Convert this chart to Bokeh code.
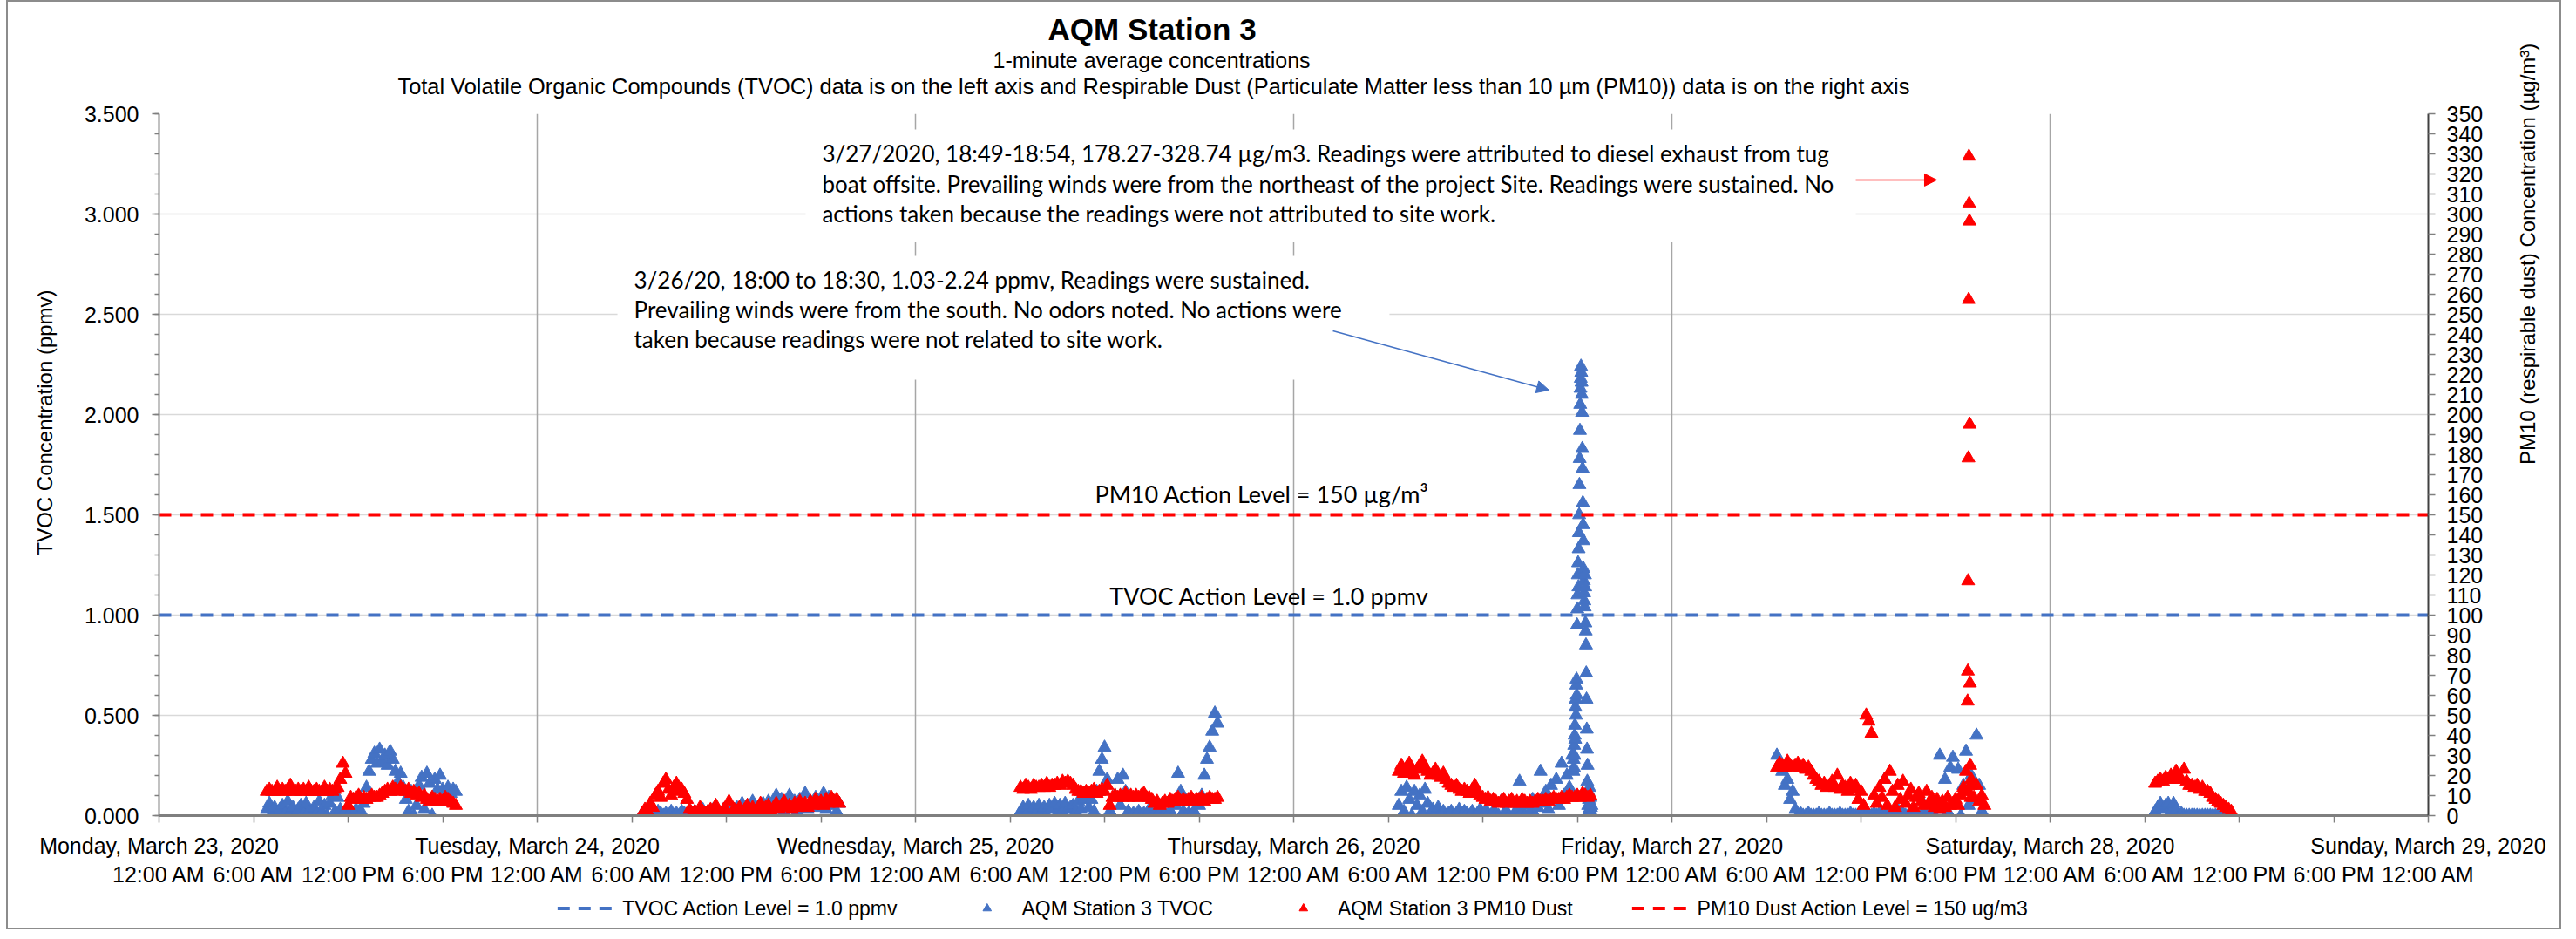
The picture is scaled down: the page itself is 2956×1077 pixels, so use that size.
import numpy as np
import pandas as pd
from bokeh.plotting import figure
from bokeh.layouts import column
from bokeh.models import (Range1d, LinearAxis, FixedTicker, SingleIntervalTicker,
                          NumeralTickFormatter, Legend, LegendItem, Label, BoxAnnotation,
                          Arrow, NormalHead, ColumnDataSource, Grid, Title)
from bokeh.embed import file_html
from bokeh.resources import INLINE

# ------------------------------------------------------------------ data
day_labels = ["Monday, March 23, 2020", "Tuesday, March 24, 2020", "Wednesday, March 25, 2020",
              "Thursday, March 26, 2020", "Friday, March 27, 2020", "Saturday, March 28, 2020",
              "Sunday, March 29, 2020"]
time_labels = ["12:00 AM", "6:00 AM", "12:00 PM", "6:00 PM"]
tick_hours = list(range(0, 145, 6))          # hours since Monday 12:00 AM
tvoc_action = 1.0                              # ppmv
pm10_action = 150                              # ug/m3

# 10-minute readings (TVOC ppmv, PM10 ug/m3) per working day
mon_start = "2020-03-23 06:50"
tvoc_mon = [0.03,
            0.06, 0.01, 0.04, 0.00, 0.03, 0.05,
            0.01, 0.07, 0.02, 0.04, 0.00, 0.03,
            0.05, 0.01, 0.06, 0.02, 0.00, 0.04,
            0.01, 0.07, 0.02, 0.05, 0.00, 0.06,
            0.10, 0.02, 0.09, 0.03, 0.01, 0.02,
            0.00, 0.02, 0.01, 0.03, 0.00, 0.02,
            0.06, 0.14, 0.22, 0.28, 0.31, 0.26,
            0.33, 0.27, 0.30, 0.25, 0.32, 0.28,
            0.22, 0.17, 0.21, 0.14, 0.08, 0.02,
            0.12, 0.00, 0.05, 0.15, 0.19, 0.03,
            0.21, 0.16, 0.00, 0.18, 0.13, 0.20,
            0.13, 0.10, 0.14, 0.11, 0.13, 0.12]
pm10_mon = [12,
            13, 12, 12, 14, 12, 13,
            12, 13, 15, 12, 12, 13,
            12, 13, 12, 14, 12, 12,
            13, 12, 12, 14, 12, 13,
            12, 13, 14, 18, 26, 21,
            5, 9, 8, 9, 10, 8,
            9, 8, 9, 10, 9, 9,
            10, 11, 12, 13, 12, 14,
            13, 12, 14, 13, 12, 13,
            11, 12, 10, 11, 9, 10,
            8, 7, 9, 8, 7, 8,
            7, 9, 8, 7, 6, 5]

tue_start = "2020-03-24 06:40"
tvoc_tue = [0.01, 0.00,
            0.02, 0.00, 0.01, 0.00, 0.02, 0.01,
            0.00, 0.01, 0.00, 0.02, 0.00, 0.01,
            0.00, 0.02, 0.01, 0.00, 0.01, 0.00,
            0.02, 0.00, 0.01, 0.03, 0.00, 0.02,
            0.01, 0.03, 0.00, 0.02, 0.01, 0.03,
            0.02, 0.00, 0.03, 0.01, 0.04, 0.02,
            0.06, 0.01, 0.05, 0.02, 0.07, 0.03,
            0.04, 0.01, 0.06, 0.03, 0.07, 0.02,
            0.05, 0.10, 0.03, 0.08, 0.02, 0.06,
            0.10, 0.04, 0.07, 0.02, 0.08, 0.05,
            0.11, 0.03, 0.07, 0.05, 0.09, 0.04,
            0.08, 0.11, 0.03, 0.09, 0.05, 0.07,
            0.02, 0.06]
pm10_tue = [1, 3,
            2, 6, 4, 10, 12, 9,
            16, 18, 13, 10, 14, 16,
            12, 13, 11, 8, 3, 1,
            2, 1, 4, 2, 1, 2,
            3, 1, 5, 2, 1, 3,
            2, 7, 1, 3, 2, 4,
            1, 3, 5, 2, 4, 1,
            3, 6, 2, 4, 5, 2,
            4, 6, 3, 5, 7, 4,
            5, 3, 6, 4, 7, 5,
            6, 4, 7, 5, 8, 6,
            7, 5, 8, 6, 9, 7,
            8, 6]

wed_start = "2020-03-25 06:40"
tvoc_wed = [0.02, 0.04,
            0.00, 0.05, 0.02, 0.04, 0.01, 0.05,
            0.02, 0.04, 0.00, 0.05, 0.03, 0.06,
            0.01, 0.05, 0.02, 0.06, 0.03, 0.04,
            0.05, 0.02, 0.07, 0.03, 0.08, 0.10,
            0.04, 0.08, 0.02, 0.12, 0.22, 0.28,
            0.34, 0.18, 0.02, 0.00, 0.10, 0.18,
            0.05, 0.20, 0.12, 0.02, 0.00, 0.01,
            0.00, 0.02, 0.00, 0.01, 0.00, 0.03,
            0.00, 0.01, 0.00, 0.02, 0.00, 0.01,
            0.00, 0.02, 0.00, 0.05, 0.21, 0.12,
            0.02, 0.00, 0.01, 0.00, 0.02, 0.00,
            0.05, 0.10, 0.20, 0.28, 0.34, 0.42,
            0.51, 0.46]
pm10_wed = [14, 13,
            15, 14, 13, 15, 14, 14,
            15, 14, 16, 14, 15, 15,
            16, 15, 17, 16, 17, 16,
            15, 13, 12, 12, 11, 12,
            11, 12, 13, 11, 12, 13,
            12, 15, 5, 9, 10, 9,
            10, 9, 11, 9, 10, 9,
            10, 9, 10, 11, 9, 9,
            8, 6, 7, 5, 6, 7,
            6, 8, 7, 8, 9, 7,
            8, 7, 8, 9, 7, 8,
            8, 9, 7, 8, 9, 8,
            8, 9]

thu_start = "2020-03-26 06:40"
tvoc_thu = [0.05, 0.12,
            0.02, 0.14, 0.08, 0.00, 0.12, 0.05,
            0.10, 0.02, 0.13, 0.06, 0.01, 0.03,
            0.00, 0.04, 0.01, 0.02, 0.00, 0.01,
            0.02, 0.00, 0.01, 0.03, 0.00, 0.02,
            0.01, 0.00, 0.02, 0.00, 0.01, 0.03,
            0.00, 0.02, 0.01, 0.00, 0.02, 0.01,
            0.00, 0.07, 0.01, 0.02, 0.00, 0.06,
            0.01, 0.03, 0.17, 0.02, 0.00, 0.05,
            0.02, 0.08, 0.00, 0.04, 0.22, 0.06,
            0.12, 0.03, 0.15, 0.08, 0.18, 0.05,
            0.26, 0.10, 0.20, 0.14, 0.30]
pm10_thu = [22, 25,
            21, 24, 26, 22, 20, 23,
            25, 27, 24, 22, 20, 21,
            23, 20, 19, 21, 18, 16,
            15, 14, 15, 13, 12, 13,
            12, 11, 13, 15, 12, 10,
            9, 8, 9, 7, 8, 7,
            6, 7, 8, 6, 7, 8,
            6, 7, 6, 8, 7, 6,
            7, 6, 7, 8, 7, 7,
            8, 7, 8, 9, 8, 8,
            9, 8, 9, 10, 9, 9,
            10, 9, 11, 10, 9, 10]

# 1-minute readings around the Thursday TVOC event (18:00-18:30, 1.03-2.24 ppmv)
thu_event_start = "2020-03-26 17:45"
tvoc_thu_event = [0.22, 0.28, 0.24, 0.35, 0.30, 0.40, 0.45, 0.38, 0.54, 0.58, 0.50, 0.65, 0.68, 0.60, 0.95,
                  1.03, 1.10, 1.20, 1.26, 1.14, 1.33, 1.41, 1.50, 1.65, 1.78, 1.92, 2.05, 2.13, 2.18, 2.24,
                  2.21, 2.16, 2.10, 2.01, 1.83, 1.73, 1.56, 1.45, 1.37, 1.23, 1.17, 1.11, 1.07, 1.04, 1.20, 1.14,
                  0.96, 0.92, 0.85, 0.71, 0.58, 0.43, 0.33, 0.17, 0.25, 0.10, 0.05, 0.12, 0.02, 0.08, 0.03,
                  0.14, 0.01, 0.06, 0.00, 0.09, 0.02, 0.04, 0.00, 0.05, 0.01]

fri_start = "2020-03-27 06:40"
tvoc_fri = [0.30, 0.26,
            0.22, 0.15, 0.18, 0.08, 0.12, 0.03,
            0.00, 0.01, 0.00, 0.00, 0.01, 0.00,
            0.00, 0.00, 0.01, 0.00, 0.00, 0.00,
            0.01, 0.00, 0.00, 0.00, 0.01, 0.00,
            0.00, 0.00, 0.01, 0.00, 0.00, 0.00,
            0.00, 0.01, 0.00, 0.00, 0.00, 0.01,
            0.00, 0.01, 0.00, 0.18, 0.02, 0.00,
            0.01, 0.00, 0.03, 0.00, 0.01, 0.00,
            0.00, 0.02, 0.00, 0.01, 0.10, 0.00,
            0.02, 0.00, 0.05, 0.01, 0.00, 0.03,
            0.30, 0.05, 0.18, 0.02, 0.24, 0.29,
            0.06, 0.23, 0.00, 0.15, 0.32, 0.05,
            0.20, 0.08, 0.40, 0.15, 0.02, 0.00]
pm10_fri = [24, 26,
            25, 24, 27, 25, 24, 25,
            26, 24, 25, 23, 24, 22,
            20, 18, 17, 15, 16, 14,
            15, 17, 14, 20, 13, 15,
            14, 12, 16, 13, 15, 8,
            12, 5, 50, 47, 41, 10,
            6, 14, 9, 18, 5, 22,
            12, 4, 15, 8, 17, 6,
            10, 13, 4, 9, 11, 7,
            5, 12, 6, 9, 4, 8,
            3, 7, 4, 9, 5, 6,
            8, 5, 10, 14, 22, 12,
            18, 9, 15, 7, 10, 5]

# 1-minute readings around the Friday PM10 event (18:49-18:54, 178.27-328.74 ug/m3)
fri_event_start = "2020-03-27 18:45"
pm10_fri_event = [12, 57, 72, 117, 178.27, 257.3, 328.74, 305.2, 296.4, 195.1, 66, 25, 15, 9]

sat_start = "2020-03-28 06:40"
tvoc_sat = [0.02, 0.04,
            0.06, 0.03, 0.05, 0.06, 0.02, 0.06,
            0.03, 0.00, 0.01, 0.00, 0.00, 0.00,
            0.00, 0.00, 0.00, 0.00, 0.00, 0.00,
            0.00, 0.00, 0.00, 0.00, 0.00, 0.00,
            0.00, 0.00, 0.00, 0.00]
pm10_sat = [16, 17,
            18, 17, 19, 18, 20, 18,
            22, 19, 18, 23, 17, 15,
            15, 14, 15, 13, 14, 12,
            12, 11, 9, 8, 7, 6,
            5, 4, 3, 2]

# ------------------------------------------------------------------ helpers
T0 = pd.Timestamp("2020-03-23 00:00")


def to_hours(start, n, step_min):
    idx = pd.date_range(start, periods=n, freq=f"{step_min}min")
    return ((idx - T0) / pd.Timedelta(hours=1)).to_numpy(dtype=float)


tvoc_segments = [(mon_start, tvoc_mon, 10), (tue_start, tvoc_tue, 10), (wed_start, tvoc_wed, 10),
                 (thu_start, tvoc_thu, 10), (thu_event_start, tvoc_thu_event, 1),
                 (fri_start, tvoc_fri, 10), (sat_start, tvoc_sat, 10)]
pm10_segments = [(mon_start, pm10_mon, 10), (tue_start, pm10_tue, 10), (wed_start, pm10_wed, 10),
                 (thu_start, pm10_thu, 10), (fri_start, pm10_fri, 10),
                 (fri_event_start, pm10_fri_event, 1), (sat_start, pm10_sat, 10)]

tvoc_src = ColumnDataSource(dict(
    x=np.concatenate([to_hours(s, len(v), st) for s, v, st in tvoc_segments]),
    y=np.concatenate([np.asarray(v, float) for s, v, st in tvoc_segments])))
pm10_src = ColumnDataSource(dict(
    x=np.concatenate([to_hours(s, len(v), st) for s, v, st in pm10_segments]),
    y=np.concatenate([np.asarray(v, float) for s, v, st in pm10_segments])))

BLUE = "#4472C4"
RED = "#FF0000"
FONT = "Liberation Sans"
NOTE_FONT = "Lato"

# ------------------------------------------------------------------ main figure
p = figure(frame_width=2604, frame_height=805, output_backend="svg", toolbar_location=None,
           x_range=Range1d(tick_hours[0], tick_hours[-1]), y_range=Range1d(0, 3.5),
           x_axis_type=None, y_axis_type=None,
           min_border_left=171, min_border_right=151, min_border_top=128, min_border_bottom=80)
p.extra_y_ranges = {"pm": Range1d(0, 350)}
p.outline_line_color = None
p.background_fill_color = "white"
p.border_fill_color = "white"

# titles (stacked outward from the plot area: spacer, subtitle 2, subtitle 1, title)
p.add_layout(Title(text=" ", text_font_size="13px", standoff=0), "above")
p.add_layout(Title(text="Total Volatile Organic Compounds (TVOC) data is on the left axis and Respirable Dust "
                        "(Particulate Matter less than 10 µm (PM10)) data is on the right axis",
                   align="left", offset=274, vertical_align="middle", standoff=0,
                   text_font=FONT, text_font_size="25.4px", text_font_style="normal", text_color="black"),
             "above")
p.add_layout(Title(text="1-minute average concentrations", align="left", offset=957,
                   vertical_align="middle", standoff=0,
                   text_font=FONT, text_font_size="25px", text_font_style="normal", text_color="black"),
             "above")
p.add_layout(Title(text="AQM Station 3", align="left", offset=1020, vertical_align="middle", standoff=0,
                   text_font=FONT, text_font_size="35px", text_font_style="bold", text_color="black"),
             "above")

# grids
p.add_layout(Grid(dimension=1, ticker=SingleIntervalTicker(interval=0.5),
                  grid_line_color="#d9d9d9", grid_line_width=1.5))
p.add_layout(Grid(dimension=0, ticker=FixedTicker(ticks=tick_hours[::4]),
                  grid_line_color="#a6a6a6", grid_line_width=1.5))

# axes
left = LinearAxis(ticker=SingleIntervalTicker(interval=0.5, num_minor_ticks=5),
                  formatter=NumeralTickFormatter(format="0.000"))
right = LinearAxis(y_range_name="pm", ticker=SingleIntervalTicker(interval=10, num_minor_ticks=0),
                   axis_label="PM10 (respirable dust) Concentration (µg/m³)")
day_axis = LinearAxis(ticker=FixedTicker(ticks=tick_hours),
                      major_label_overrides={t: (day_labels[t // 24] if t % 24 == 0 else "")
                                             for t in tick_hours})
time_axis = LinearAxis(ticker=FixedTicker(ticks=tick_hours),
                       major_label_overrides={t: time_labels[(t // 6) % 4] for t in tick_hours})

for ax in (left, right, day_axis, time_axis):
    ax.major_label_text_font = FONT
    ax.major_label_text_font_size = "25px"
    ax.major_label_text_color = "black"
    ax.axis_label_text_font = FONT
    ax.axis_label_text_font_size = "24px"
    ax.axis_label_text_font_style = "normal"
    ax.axis_label_text_color = "black"
    ax.major_tick_in = 0
    ax.minor_tick_in = 0
    ax.major_tick_line_color = "#7f7f7f"
    ax.minor_tick_line_color = "#7f7f7f"
    ax.major_tick_line_width = 1.5
    ax.minor_tick_line_width = 1.5

left.axis_line_color = "#868686"
left.axis_line_width = 2
left.major_tick_out = 8
left.minor_tick_out = 5
left.major_label_standoff = 15

right.axis_line_color = "#404040"
right.axis_line_width = 2
right.major_tick_out = 8
right.minor_tick_out = 0
right.major_label_standoff = 13
right.axis_label_standoff = 48
if "axis_label_orientation" in right.properties():
    right.axis_label_orientation = np.pi / 2
    right.axis_label_text_align = "center"
    right.axis_label_text_baseline = "middle"

day_axis.axis_line_color = "#7f7f7f"
day_axis.axis_line_width = 3
day_axis.major_tick_out = 8
day_axis.minor_tick_line_color = None
day_axis.major_label_standoff = 12

time_axis.axis_line_color = None
time_axis.major_tick_line_color = None
time_axis.minor_tick_line_color = None
time_axis.major_label_standoff = -4

p.add_layout(left, "left")
p.add_layout(right, "right")
p.add_layout(day_axis, "below")
p.add_layout(time_axis, "below")

# left axis title, placed a little above the middle of the axis as in the original
p.add_layout(Title(text="TVOC Concentration (ppmv)", align="left", offset=299, vertical_align="middle",
                   standoff=55, text_font=FONT, text_font_size="24px", text_font_style="normal",
                   text_color="black"), "left")

# series
x_span = [tick_hours[0], tick_hours[-1]]
p.line(x_span, [tvoc_action, tvoc_action], line_color=BLUE, line_width=4, line_dash="14 10")
p.scatter("x", "y", source=tvoc_src, marker="triangle", size=15, fill_color=BLUE, line_color=BLUE)
p.scatter("x", "y", source=pm10_src, marker="triangle", size=15, fill_color=RED, line_color=RED,
          y_range_name="pm")
p.line(x_span, [pm10_action, pm10_action], line_color=RED, line_width=4, line_dash="14 10",
       y_range_name="pm")

# action level labels
p.add_layout(Label(x=80.57, y=1.604, text="PM10 Action Level = 150 µg/m³", text_align="right",
                   text_baseline="middle", text_font=NOTE_FONT, text_font_size="27px", text_color="black"))
p.add_layout(Label(x=80.57, y=1.096, text="TVOC Action Level = 1.0 ppmv", text_align="right",
                   text_baseline="middle", text_font=NOTE_FONT, text_font_size="27px", text_color="black"))

# note boxes
p.add_layout(BoxAnnotation(left=41.03, right=107.67, top=3.422, bottom=2.861,
                           fill_color="white", fill_alpha=1.0, line_color=None))
p.add_layout(BoxAnnotation(left=29.09, right=78.08, top=2.791, bottom=2.174,
                           fill_color="white", fill_alpha=1.0, line_color=None))

note_pm = ["3/27/2020, 18:49-18:54, 178.27-328.74 µg/m3. Readings were attributed to diesel exhaust from tug",
           "boat offsite. Prevailing winds were from the northeast of the project Site. Readings were sustained. No",
           "actions taken because the readings were not attributed to site work."]
note_tvoc = ["3/26/20, 18:00 to 18:30, 1.03-2.24 ppmv, Readings were sustained.",
             "Prevailing winds were from the south. No odors noted. No actions were",
             "taken because readings were not related to site work."]
for line, yy in zip(note_pm, [3.304, 3.152, 3.004]):
    p.add_layout(Label(x=42.08, y=yy, text=line, text_align="left", text_baseline="middle",
                       text_font=NOTE_FONT, text_font_size="26px", text_color="black"))
for line, yy in zip(note_tvoc, [2.670, 2.522, 2.374]):
    p.add_layout(Label(x=30.14, y=yy, text=line, text_align="left", text_baseline="middle",
                       text_font=NOTE_FONT, text_font_size="26px", text_color="black"))

p.add_layout(Arrow(x_start=107.67, y_start=3.170, x_end=112.81, y_end=3.170,
                   line_color=RED, line_width=1.5,
                   end=NormalHead(size=14, fill_color=RED, line_color=RED)))
p.add_layout(Arrow(x_start=74.49, y_start=2.417, x_end=88.20, y_end=2.122,
                   line_color=BLUE, line_width=1.5,
                   end=NormalHead(size=14, fill_color=BLUE, line_color=BLUE)))

# ------------------------------------------------------------------ legend strip
lf = figure(width=2926, height=45, output_backend="svg", toolbar_location=None,
            x_range=Range1d(0, 1), y_range=Range1d(0, 1), x_axis_type=None, y_axis_type=None,
            min_border=0)
lf.outline_line_color = None
lf.grid.visible = False
# legend-key renderers, kept outside the visible strip
g_tvoc_act = lf.line([-3, -2], [-3, -3], line_color=BLUE, line_width=4, line_dash="14 10")
g_tvoc = lf.scatter([-3], [-3], marker="triangle", size=15, fill_color=BLUE, line_color=BLUE)
g_pm = lf.scatter([-3], [-3], marker="triangle", size=15, fill_color=RED, line_color=RED)
g_pm_act = lf.line([-3, -2], [-3, -3], line_color=RED, line_width=4, line_dash="14 10")
legend = Legend(items=[LegendItem(label="TVOC Action Level = 1.0 ppmv", renderers=[g_tvoc_act]),
                       LegendItem(label="AQM Station 3 TVOC", renderers=[g_tvoc]),
                       LegendItem(label="AQM Station 3 PM10 Dust", renderers=[g_pm]),
                       LegendItem(label="PM10 Dust Action Level = 150 ug/m3", renderers=[g_pm_act])],
                orientation="horizontal", location="center",
                glyph_width=70, glyph_height=24, label_standoff=5, spacing=68,
                label_text_font=FONT, label_text_font_size="23px", label_text_color="black",
                border_line_color=None, background_fill_alpha=0, margin=0, padding=4)
lf.add_layout(legend, "center")

layout = column(p, lf, spacing=0)
layout.styles = {"border": "2px solid #8c8c8c", "margin-left": "7px"}

open("out.html", "w").write(file_html(layout, INLINE))
